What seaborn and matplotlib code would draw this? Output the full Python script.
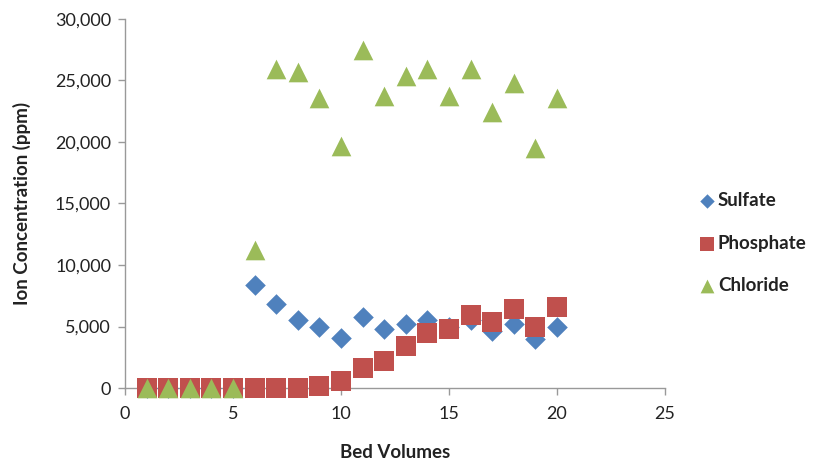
import matplotlib
matplotlib.use("Agg")
import matplotlib.pyplot as plt
import seaborn as sns
import pandas as pd
from matplotlib.ticker import FuncFormatter

bed_volumes = list(range(1, 21))
sulfate = [0, 0, 0, 0, 0, 8400, 6800, 5500, 5000, 4100, 5800, 4800, 5200, 5500, 5000, 5500, 4600, 5200, 4000, 5000]
phosphate = [0, 0, 0, 0, 0, 0, 0, 0, 150, 550, 1600, 2200, 3400, 4500, 4800, 5900, 5400, 6400, 5000, 6600]
chloride = [0, 0, 0, 0, 0, 11200, 25900, 25700, 23600, 19700, 27500, 23700, 25400, 25900, 23700, 25900, 22400, 24800, 19500, 23600]
series_names = ["Sulfate", "Phosphate", "Chloride"]

rows = []
for name, vals in zip(series_names, [sulfate, phosphate, chloride]):
    for x, v in zip(bed_volumes, vals):
        rows.append({"Bed Volumes": x, "value": v, "Ion": name})
df = pd.DataFrame(rows)

sns.set_theme(style="white")
plt.rcParams["font.family"] = ["Lato", "DejaVu Sans"]

fig = plt.figure(figsize=(8.38, 4.61), dpi=100)
ax = fig.add_axes([125/838, 1 - 388/461, 540/838, 369/461])

palette = {"Sulfate": "#4F81BD", "Phosphate": "#C0504D", "Chloride": "#9BBB59"}
markers = {"Sulfate": "D", "Phosphate": "s", "Chloride": "^"}
sizes_map = {"Sulfate": 110, "Phosphate": 190, "Chloride": 200}

for name in series_names:
    sub = df[df["Ion"] == name]
    sns.scatterplot(data=sub, x="Bed Volumes", y="value", color=palette[name],
                    marker=markers[name], s=sizes_map[name], linewidth=0,
                    ax=ax, label=name, clip_on=False, zorder=3)

ax.set_xlim(0, 25)
ax.set_ylim(0, 30000)
ax.set_xticks([0, 5, 10, 15, 20, 25])
ax.set_yticks(range(0, 30001, 5000))
ax.yaxis.set_major_formatter(FuncFormatter(lambda v, p: f"{int(v):,}"))
ax.tick_params(axis="both", labelsize=13, length=5, width=1, direction="out",
               bottom=True, left=True, colors="#999999", labelcolor="#222222")
ax.tick_params(axis="x", pad=8)
ax.tick_params(axis="y", pad=5)
for side in ["top", "right"]:
    ax.spines[side].set_visible(False)
for side in ["left", "bottom"]:
    ax.spines[side].set_color("#999999")
    ax.spines[side].set_linewidth(1)

ax.set_xlabel("Bed Volumes", fontsize=13.5, fontweight="bold", color="#222222", labelpad=16)
ax.set_ylabel("Ion Concentration (ppm)", fontsize=13.5, fontweight="bold", color="#222222", labelpad=17)

leg = ax.legend(loc="center left", bbox_to_anchor=(686/838, 1 - 243/461),
                bbox_transform=fig.transFigure, frameon=False,
                handletextpad=0.0, labelspacing=1.35, markerscale=0.7, handlelength=1.2,
                borderpad=0, prop={"weight": "bold", "size": 13.5})
for t in leg.get_texts():
    t.set_color("#222222")

fig.savefig("out.png", dpi=100)
